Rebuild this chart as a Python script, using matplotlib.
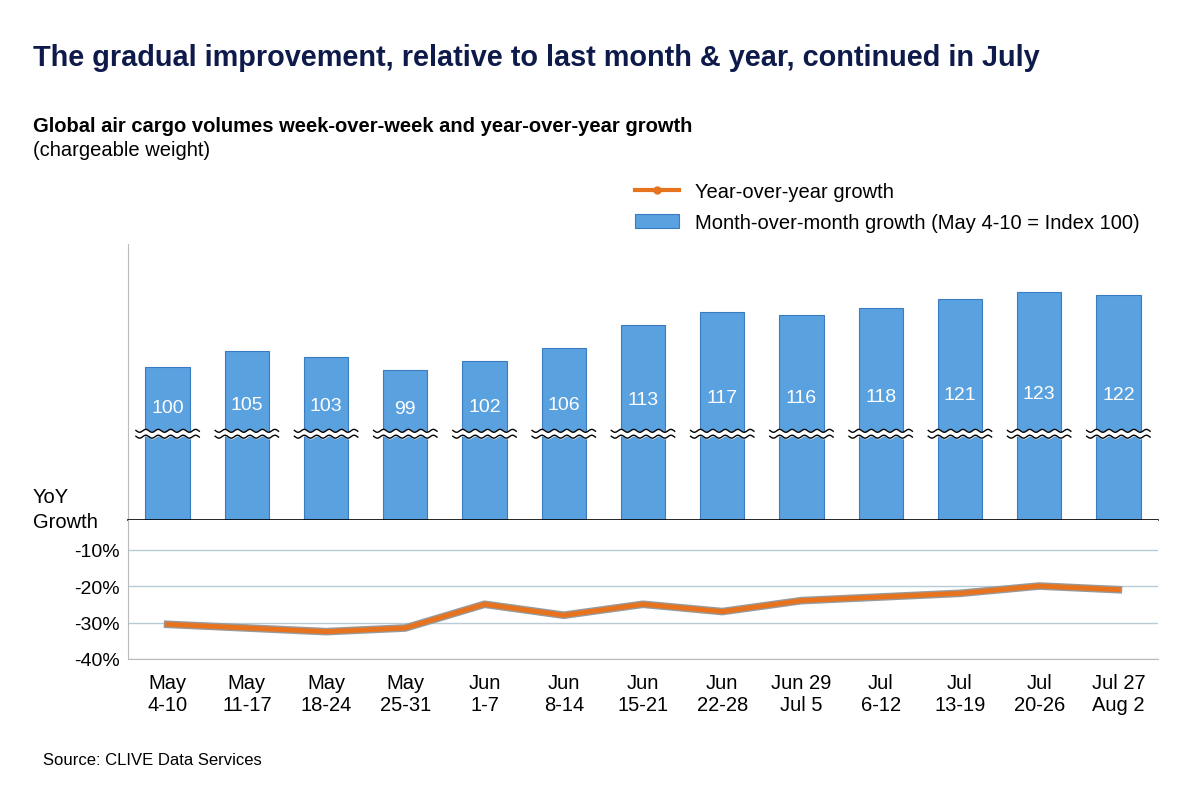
import matplotlib
matplotlib.use("Agg")
import matplotlib.pyplot as plt
import numpy as np
import matplotlib.patheffects as pe

cats = ["May\n4-10","May\n11-17","May\n18-24","May\n25-31","Jun\n1-7","Jun\n8-14","Jun\n15-21",
        "Jun\n22-28","Jun 29\nJul 5","Jul\n6-12","Jul\n13-19","Jul\n20-26","Jul 27\nAug 2"]
mom = [100,105,103,99,102,106,113,117,116,118,121,123,122]
yoy = [-30.5,-31.5,-32.5,-31.5,-25,-28,-25,-27,-24,-23,-22,-20,-21]

plt.rcParams['font.family'] = ['Liberation Sans','DejaVu Sans']
fig = plt.figure(figsize=(12,8.03), dpi=100)
L, W = 128/1200, 1030/1200
axt = fig.add_axes([L, 1-521/803, W, 276/803])
axb = fig.add_axes([L, 1-660/803, W, 139/803])
x = np.arange(len(cats))
barc = '#5AA1E0'
bars = axt.bar(x, [v-53 for v in mom], bottom=53, width=0.56, color=barc, edgecolor='#3A7CBF', linewidth=0.8)
axt.set_ylim(53, 137.8)
axt.set_xlim(-0.5, len(cats)-0.5)
yb = 79.5
for i, v in enumerate(mom):
    axt.text(i, 87.5+(v-100)*0.19, str(v), ha='center', va='center', color='white', fontsize=14)
    t = np.linspace(-0.4, 0.4, 80)
    w = 0.45*np.sin(t*40)
    axt.fill_between(i+t, yb-0.9+w, yb+0.9+w, color='white', zorder=3)
    for off in (-0.9, 0.9):
        axt.plot(i+t, yb+off+w, color='black', lw=1, zorder=4)
for s in ['top','right']:
    axt.spines[s].set_visible(False)
axt.spines['left'].set_color('#BBBBBB')
axt.spines['bottom'].set_color('black'); axt.spines['bottom'].set_linewidth(1.2)
axt.set_xticks([]); axt.set_yticks([])
ln, = axt.plot([], [], color='#E8731E', lw=3, marker='o', ms=5)
axt.legend([ln, bars], ['Year-over-year growth', 'Month-over-month growth (May 4-10 = Index 100)'],
           loc='upper right', bbox_to_anchor=(1.0, 1.29), frameon=False, fontsize=14.5,
           handlelength=2.2, labelspacing=0.6)

axb.plot(x, yoy, color='#E8731E', lw=3.5, path_effects=[pe.Stroke(linewidth=5.5, foreground='#999999'), pe.Normal()])
axb.set_ylim(-40, -1.9)
axb.set_xlim(-0.5, len(cats)-0.5)
axb.set_yticks([-40,-30,-20,-10])
axb.set_yticklabels(['-40%','-30%','-20%','-10%'], fontsize=14)
axb.grid(axis='y', color='#B8CCD8', lw=1)
axb.set_axisbelow(True)
for s in ['top','right']:
    axb.spines[s].set_visible(False)
axb.spines['left'].set_color('#BBBBBB'); axb.spines['bottom'].set_color('#BBBBBB')
axb.tick_params(length=0, pad=6)
axb.set_xticks(x); axb.set_xticklabels(cats, fontsize=14.5)
axb.tick_params(axis='x', pad=10)
fig.text(33/1200, 1-510/803, 'YoY\nGrowth', fontsize=14.5, va='center', ha='left', linespacing=1.4)

fig.text(33/1200, 1-58/803, 'The gradual improvement, relative to last month & year, continued in July',
         fontsize=20.8, fontweight='bold', color='#0D1A4A', va='center')
fig.text(33/1200, 1-127/803, 'Global air cargo volumes week-over-week and year-over-year growth',
         fontsize=14.5, fontweight='bold', va='center')
fig.text(33/1200, 1-151/803, '(chargeable weight)', fontsize=14.5, va='center')
fig.text(43/1200, 1-761/803, 'Source: CLIVE Data Services', fontsize=12, va='center')
fig.savefig('out.png', dpi=100)
